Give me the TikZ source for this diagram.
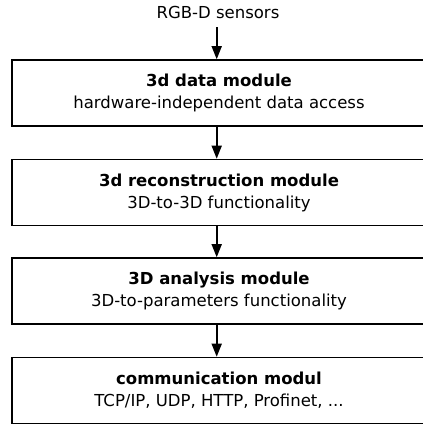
\documentclass[tikz,border=0pt]{standalone}
\usepackage{fontspec}
\setmainfont{DejaVu Sans}
\usetikzlibrary{arrows.meta}
\begin{document}
\begin{tikzpicture}[x=1pt,y=-1pt,
  modbox/.style={draw=black,line width=1.6pt,minimum width=414pt,minimum height=66pt,inner sep=0pt,align=center,font=\fontsize{16.5}{22}\selectfont},
  flow/.style={line width=1.6pt,-{Triangle[width=10pt,length=13pt]}}]
\useasboundingbox (0,0) rectangle (423,426);
\clip (0,0) rectangle (423,426);
\node[font=\fontsize{16.5}{20}\selectfont,inner sep=0pt] (s) at (218,12) {RGB-D sensors};
\node[modbox] (b1) at (219,93) {\textbf{3d data module}\\hardware-independent data access};
\node[modbox] (b2) at (219,192.5) {\textbf{3d reconstruction module}\\3D-to-3D functionality};
\node[modbox] (b3) at (219,291) {\textbf{3D analysis module}\\3D-to-parameters functionality};
\node[modbox] (b4) at (219,390.5) {\textbf{communication modul}\\TCP/IP, UDP, HTTP, Profinet, ...};
\coordinate (a0) at (216.7,27);
\draw[flow] (a0) -- (b1.north -| a0);
\draw[flow] (b1.south -| a0) -- (b2.north -| a0);
\draw[flow] (b2.south -| a0) -- (b3.north -| a0);
\draw[flow] (b3.south -| a0) -- (b4.north -| a0);
\end{tikzpicture}
\end{document}
